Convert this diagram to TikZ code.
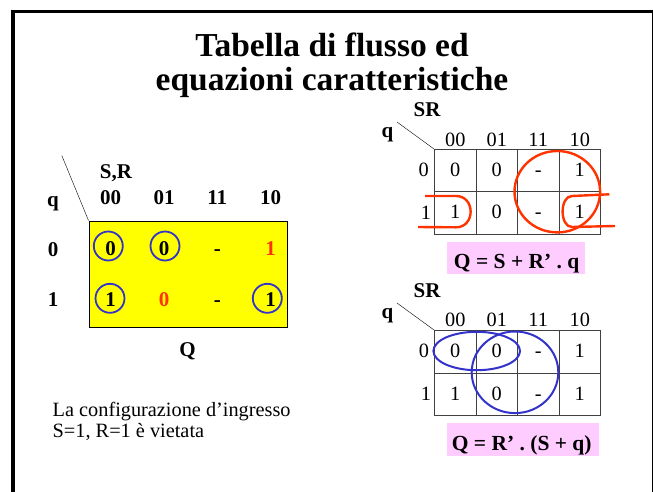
\documentclass[tikz,border=0pt]{standalone}
\usepackage{fontspec}
\setmainfont{Liberation Serif}
\usetikzlibrary{positioning}
\definecolor{kmyellow}{RGB}{255,255,0}
\definecolor{kmred}{RGB}{255,51,0}
\definecolor{kmblue}{RGB}{51,51,204}
\definecolor{kmpink}{RGB}{255,204,255}

\begin{document}
\begin{tikzpicture}[x=1pt,y=-1pt,
    txt/.style={anchor=base,inner sep=0pt,font=\fontsize{20.3}{21}\selectfont},
    btxt/.style={anchor=base,inner sep=0pt,font=\fontsize{21}{22}\selectfont\bfseries},
    eqtxt/.style={btxt,font=\fontsize{21.5}{22}\selectfont\bfseries},
    titletxt/.style={anchor=base,inner sep=0pt,font=\fontsize{33.5}{34}\selectfont\bfseries},
    ring/.style={circle,draw=kmblue,line width=1.8pt,minimum size=29pt,inner sep=0pt},
    redloop/.style={draw=kmred,line width=2.4pt},
    blueloop/.style={draw=kmblue,line width=2pt},
    cellgrid/.style={draw=black!75,line width=1pt},
    eqbox/.style={fill=kmpink,inner sep=0pt}]
  \useasboundingbox (0,0) rectangle (653,491);
  \clip (0,0) rectangle (653,491);
  \draw[line width=3.5pt] (13,500) |- (653.5,11.5) -- (653.5,500);
  % title
  \node[titletxt] (title1) at (332,56) {Tabella di flusso ed};
  \node[titletxt] (title2) at (332,90) {equazioni caratteristiche};
  % flow table
  \node[draw,fill=kmyellow,line width=1pt,minimum width=198pt,minimum height=106pt,inner sep=0pt] (flow) at (188,274) {};
  \draw (flow.north west) -- ++(-26.7,-65) coordinate (flowtip);
  \node[btxt] (flowSR) at (116,178.3) {S,R};
  \node[btxt] (flowq) at (53,206.7) {q};
  \foreach \c [count=\i] in {00,01,11,10}
    \node[btxt] (fh\i) at ({57.4+53.3*\i},204) {\c};
  \node[btxt] (fr0) at (53,256) {0};
  \node[btxt] (fr1) at (53,306.7) {1};
  \foreach \v/\col [count=\i] in {0/black,0/black,-/black,1/kmred}
    \node[btxt,text=\col] (fa\i) at ({57.4+53.3*\i},255.5) {\v};
  \foreach \v/\col [count=\i] in {1/black,0/kmred,-/black,1/black}
    \node[btxt,text=\col] (fb\i) at ({57.4+53.3*\i},306.5) {\v};
  \node[ring] (ring1) at (108.3,246) {};
  \node[ring] (ring2) at (165,246) {};
  \node[ring] (ring3) at (110,298.3) {};
  \node[ring] (ring4) at (267.3,298.3) {};
  \node[btxt] (flowQ) at (187.5,356.7) {Q};
  % note
  \node[txt,anchor=base west] (note1) at (52.5,416.7) {La configurazione d’ingresso};
  \node[txt,anchor=base west] (note2) at (52.5,437.7) {S=1, R=1 è vietata};
  % map for Q = S + R'q
  \coordinate (mapA) at (434,149);
  \draw[cellgrid] (mapA) rectangle (600,234.3);
  \foreach \x in {476,517,559} \draw[cellgrid] (\x,149) -- (\x,234.3);
  \draw[cellgrid] (434,191) -- (600,191);
  \draw (mapA) -- (397,122);
  \node[btxt] (mapASR) at (427,116.7) {SR};
  \node[btxt] (mapAq) at (387.5,137) {q};
  \foreach \c [count=\i] in {00,01,11,10}
    \node[txt] (ah\i) at ({413.75+41.5*\i},146.7) {\c};
  \node[txt] (ar0) at (423.7,176.7) {0};
  \node[txt] (ar1) at (426,219.3) {1};
  \foreach \v [count=\i] in {0,0,-,1}
    \node[txt] (aa\i) at ({413.75+41.5*\i},176.3) {\v};
  \foreach \v [count=\i] in {1,0,-,1}
    \node[txt] (ab\i) at ({413.75+41.5*\i},218.6) {\v};
  \draw[redloop] (557.3,191.7) ellipse [x radius=42.8,y radius=40.7];
  \draw[redloop] (425,196) -- (456,196) .. controls (475.5,196) and (475.5,227.3) .. (456,227.3) -- (418,227);
  \draw[redloop] (609.3,194.3) -- (572,196) .. controls (559.5,196) and (559.5,227) .. (572,227) -- (615,226);
  \node[eqbox,minimum width=137.7pt,minimum height=32pt] (eqAbox) at (516.2,258.3) {};
  \node[eqtxt] (eqA) at (516.7,268.3) {Q = S + R’ . q};
  % map for Q = R'(S + q)
  \coordinate (mapB) at (434,330);
  \draw[cellgrid] (mapB) rectangle (600,415.7);
  \foreach \x in {476,517,559} \draw[cellgrid] (\x,330) -- (\x,415.7);
  \draw[cellgrid] (434,373.3) -- (600,373.3);
  \draw (mapB) -- (397,303);
  \node[btxt] (mapBSR) at (427,297.3) {SR};
  \node[btxt] (mapBq) at (387.5,318) {q};
  \foreach \c [count=\i] in {00,01,11,10}
    \node[txt] (bh\i) at ({413.75+41.5*\i},326.7) {\c};
  \node[txt] (br0) at (424,357) {0};
  \node[txt] (br1) at (426,400) {1};
  \foreach \v [count=\i] in {0,0,-,1}
    \node[txt] (ba\i) at ({413.75+41.5*\i},357) {\v};
  \foreach \v [count=\i] in {1,0,-,1}
    \node[txt] (bb\i) at ({413.75+41.5*\i},400) {\v};
  \draw[blueloop] (476.7,351) ellipse [x radius=43.3,y radius=19.2];
  \draw[blueloop] (515,372.3) ellipse [x radius=43.3,y radius=40.8];
  \node[eqbox,minimum width=152pt,minimum height=32.4pt] (eqBbox) at (523.3,439.5) {};
  \node[eqtxt] (eqB) at (521.7,450) {Q = R’ . (S + q)};
\end{tikzpicture}
\end{document}
